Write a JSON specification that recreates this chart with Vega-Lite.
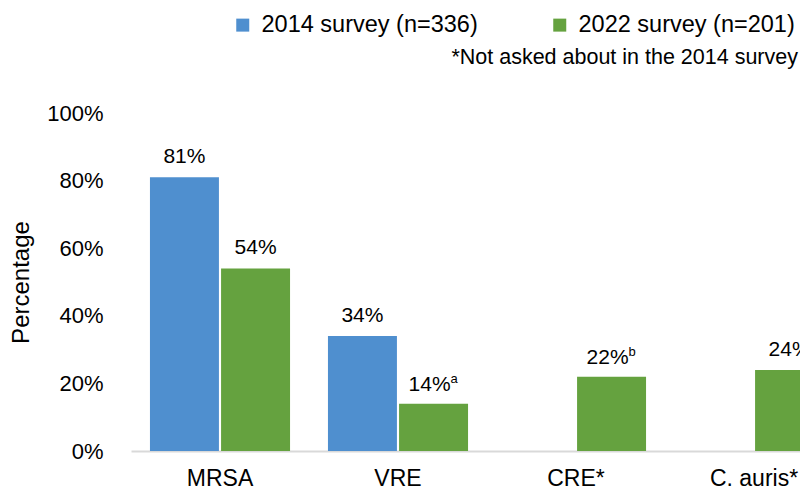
{
  "$schema": "https://vega.github.io/schema/vega-lite/v6.json",
  "width": 669,
  "height": 338,
  "autosize": "none",
  "padding": {"left": 131, "top": 113, "right": 0, "bottom": 39},
  "background": "white",
  "config": {
    "view": {"stroke": null},
    "font": "Liberation Sans",
    "text": {"font": "Liberation Sans", "fontSize": 21, "color": "black"}
  },
  "title": {
    "text": "*Not asked about in the 2014 survey",
    "anchor": "end",
    "frame": "group",
    "orient": "top",
    "font": "Liberation Sans",
    "fontSize": 21.5,
    "fontWeight": "normal",
    "color": "black",
    "offset": -55,
    "dx": -2
  },
  "data": {
    "values": [
      {"pathogen": "MRSA", "survey": "2014 survey (n=336)", "value": 81, "label": "81%", "sup": ""},
      {"pathogen": "MRSA", "survey": "2022 survey (n=201)", "value": 54, "label": "54%", "sup": ""},
      {"pathogen": "VRE", "survey": "2014 survey (n=336)", "value": 34, "label": "34%", "sup": ""},
      {"pathogen": "VRE", "survey": "2022 survey (n=201)", "value": 14, "label": "14%", "sup": "a"},
      {"pathogen": "CRE*", "survey": "2022 survey (n=201)", "value": 22, "label": "22%", "sup": "b"},
      {"pathogen": "C. auris*", "survey": "2022 survey (n=201)", "value": 24, "label": "24%", "sup": ""}
    ]
  },
  "encoding": {
    "x": {
      "field": "pathogen",
      "type": "nominal",
      "sort": ["MRSA", "VRE", "CRE*", "C. auris*"],
      "scale": {"range": [0, 712], "paddingInner": 0.213, "paddingOuter": 0.1065},
      "axis": {
        "title": null,
        "labelAngle": 0,
        "labelFontSize": 23,
        "labelColor": "black",
        "labelPadding": 16,
        "ticks": false,
        "domainColor": "#D9D9D9",
        "domainWidth": 2,
        "labelFont": "Liberation Sans"
      }
    },
    "xOffset": {
      "field": "survey",
      "type": "nominal",
      "scale": {"domain": ["2014 survey (n=336)", "2022 survey (n=201)"], "paddingInner": 0.03}
    },
    "y": {
      "field": "value",
      "type": "quantitative",
      "scale": {"domain": [0, 100]},
      "axis": {
        "title": "Percentage",
        "titleFontSize": 24,
        "titleFontWeight": "normal",
        "titleColor": "black",
        "titleFont": "Liberation Sans",
        "titlePadding": 13,
        "values": [0, 20, 40, 60, 80, 100],
        "labelExpr": "datum.value + '%'",
        "labelFontSize": 22,
        "labelColor": "black",
        "labelFont": "Liberation Sans",
        "labelPadding": 28,
        "grid": false,
        "domain": false,
        "ticks": false
      }
    }
  },
  "layer": [
    {
      "mark": {"type": "bar"},
      "encoding": {
        "color": {
          "field": "survey",
          "type": "nominal",
          "scale": {"domain": ["2014 survey (n=336)", "2022 survey (n=201)"], "range": ["#4F8FCF", "#65A23F"]},
          "legend": {
            "title": null,
            "orient": "none",
            "direction": "horizontal",
            "legendX": 100,
            "legendY": -100,
            "symbolType": "square",
            "symbolSize": 169,
            "symbolStrokeWidth": 0,
            "labelFontSize": 23.5,
            "labelColor": "black",
            "labelFont": "Liberation Sans",
            "labelLimit": 400,
            "labelOffset": 7,
            "columnPadding": 70
          }
        }
      }
    },
    {
      "transform": [{"filter": "datum.sup == ''"}],
      "mark": {"type": "text", "baseline": "alphabetic", "dy": -14},
      "encoding": {"text": {"field": "label"}}
    },
    {
      "transform": [{"filter": "datum.sup != ''"}],
      "mark": {"type": "text", "baseline": "alphabetic", "align": "right", "dx": 17, "dy": -13},
      "encoding": {"text": {"field": "label"}}
    },
    {
      "transform": [{"filter": "datum.sup != ''"}],
      "mark": {"type": "text", "baseline": "alphabetic", "align": "left", "dx": 17, "dy": -21, "fontSize": 13},
      "encoding": {"text": {"field": "sup"}}
    }
  ]
}
